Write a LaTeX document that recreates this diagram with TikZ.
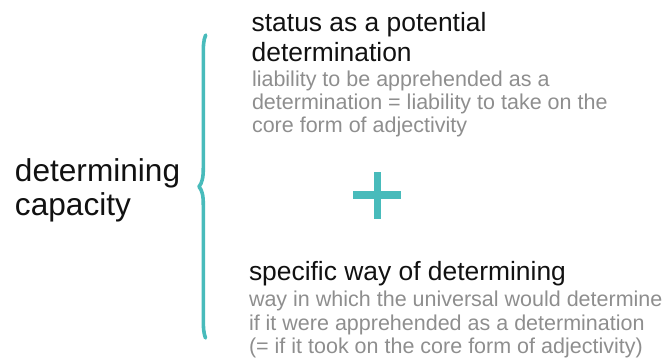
\documentclass[tikz,border=0pt]{standalone}
\usepackage{fontspec}
\setmainfont{Liberation Sans}
\definecolor{braceteal}{HTML}{48BBBB}
\definecolor{notegray}{HTML}{8E8E8E}
\definecolor{headblack}{HTML}{111111}
\begin{document}
\begin{tikzpicture}[x=1pt,y=-1pt,
  line/.style={anchor=base west,inner sep=0pt,outer sep=0pt},
  big/.style={line,text=headblack,font=\fontsize{31.6}{36}\selectfont},
  head/.style={line,text=headblack,font=\fontsize{26.4}{30}\selectfont},
  note/.style={line,text=notegray,font=\fontsize{21.5}{24}\selectfont},
  bracestroke/.style={draw=braceteal,line width=3.6pt,line cap=round,line join=round},
  plusbar/.style={draw=braceteal,line width=7.5pt,line cap=butt}]
\useasboundingbox (0,0) rectangle (662,359);

% left label
\node[big] (cap1) at (15,181.7) {determining};
\node[big] (cap2) at (15,215.5) {capacity};

% curly brace
\draw[bracestroke] (205.7,35) .. controls (203.4,40) and (203.3,46) .. (203.3,55)
  -- (203.3,168) .. controls (203.3,178) and (202,183) .. (199,186.7)
  .. controls (202,190) and (203.3,195) .. (203.3,205)
  -- (203.3,318) .. controls (203.3,328) and (203.6,333) .. (205.5,338);

% upper block
\node[head] (s1) at (251.7,31.7) {status as a potential};
\node[head] (s2) at (251.7,61) {determination};
\node[note] (s3) at (252,86) {liability to be apprehended as a};
\node[note] (s4) at (252,109.4) {determination = liability to take on the};
\node[note] (s5) at (252,132.8) {core form of adjectivity};

% plus sign
\coordinate (pc) at (377.3,195.2);
\draw[plusbar] ([xshift=-24pt]pc) -- ([xshift=24pt]pc);
\draw[plusbar] ([yshift=-23.6pt]pc) -- ([yshift=23.6pt]pc);

% lower block
\node[head] (w1) at (249,280) {specific way of determining};
\node[note] (w2) at (249,306.6) {way in which the universal would determine};
\node[note] (w3) at (249,330) {if it were apprehended as a determination};
\node[note] (w4) at (249,353.4) {(= if it took on the core form of adjectivity)};
\end{tikzpicture}
\end{document}
